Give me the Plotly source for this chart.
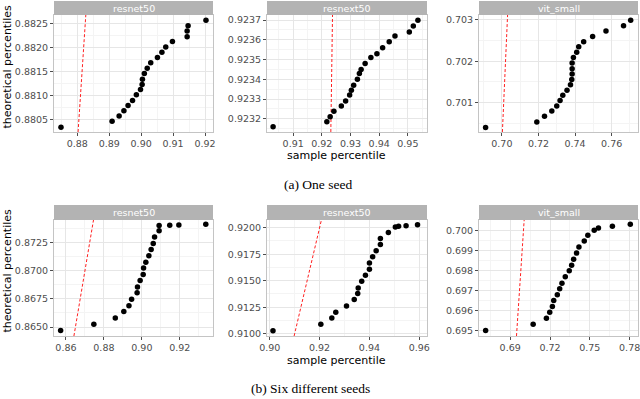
import plotly.graph_objects as go
from plotly.subplots import make_subplots

models = ["resnet50", "resnext50", "vit_small"]

# (a) one seed: sample percentile (x) vs theoretical percentile (y)
one_resnet50_x = [0.8749, 0.8909, 0.8931, 0.8946, 0.8959, 0.8973, 0.8985, 0.8998, 0.9003, 0.9004, 0.9010,
                  0.9019, 0.9030, 0.9051, 0.9065, 0.9077, 0.9098, 0.9144, 0.9144, 0.9147, 0.9203]
one_resnet50_y = [0.88035, 0.88047, 0.88058, 0.88069, 0.88080, 0.88090, 0.88102, 0.88113, 0.88123, 0.88134, 0.88146,
                  0.88157, 0.88168, 0.88179, 0.88190, 0.88201, 0.88212, 0.88222, 0.88234, 0.88245, 0.88256]

one_resnext50_x = [0.9030, 0.92175, 0.9229, 0.9242, 0.9268, 0.9283, 0.9297, 0.9303, 0.9311, 0.9324, 0.9331,
                   0.9337, 0.9351, 0.9371, 0.9392, 0.9412, 0.9435, 0.9455, 0.9505, 0.9519, 0.9535]
one_resnext50_y = [0.923160, 0.923185, 0.923210, 0.923238, 0.923265, 0.923290, 0.923320, 0.923345, 0.923370, 0.923400, 0.923430,
                   0.923450, 0.923480, 0.923510, 0.923530, 0.923560, 0.923590, 0.923620, 0.923640, 0.923670, 0.923700]

one_vit_x = [0.6911, 0.7191, 0.7233, 0.7273, 0.7300, 0.7318, 0.7333, 0.7356, 0.7375, 0.7382, 0.7384,
             0.7384, 0.7384, 0.7391, 0.7409, 0.7420, 0.7447, 0.7496, 0.7569, 0.7665, 0.7704]
one_vit_y = [0.70040, 0.70053, 0.70067, 0.70080, 0.70092, 0.70105, 0.70118, 0.70130, 0.70143, 0.70156, 0.70169,
             0.70182, 0.70196, 0.70209, 0.70222, 0.70235, 0.70247, 0.70260, 0.70273, 0.70286, 0.70299]

# (b) six different seeds
six_resnet50_x = [0.8572, 0.8747, 0.8860, 0.8905, 0.8932, 0.8946, 0.8975, 0.8977, 0.8991, 0.9007, 0.9009,
                  0.9021, 0.9037, 0.9049, 0.9060, 0.9067, 0.9091, 0.9091, 0.9147, 0.9195, 0.9337]
six_resnet50_y = [0.86470, 0.86524, 0.86580, 0.86637, 0.86690, 0.86747, 0.86804, 0.86857, 0.86914, 0.86967, 0.87024,
                  0.87077, 0.87134, 0.87190, 0.87244, 0.87300, 0.87357, 0.87402, 0.87405, 0.87408, 0.87414]

six_resnext50_x = [0.9013, 0.9205, 0.9249, 0.9265, 0.9308, 0.9339, 0.9353, 0.9355, 0.9369, 0.9384, 0.9400,
                   0.9400, 0.9413, 0.9427, 0.9444, 0.9444, 0.9476, 0.9504, 0.9517, 0.9547, 0.9593]
six_resnext50_y = [0.91028, 0.91088, 0.91148, 0.91202, 0.91262, 0.91322, 0.91379, 0.91432, 0.91495, 0.91551, 0.91608,
                   0.91668, 0.91725, 0.91782, 0.91842, 0.91899, 0.91956, 0.92006, 0.92013, 0.92019, 0.92028]

six_vit_x = [0.6715, 0.7073, 0.7173, 0.7198, 0.7218, 0.7228, 0.7255, 0.7273, 0.7290, 0.7315, 0.7345,
             0.7363, 0.7378, 0.7400, 0.7418, 0.7458, 0.7485, 0.7533, 0.7565, 0.7670, 0.7805]
six_vit_y = [0.69502, 0.69533, 0.69563, 0.69593, 0.69622, 0.69652, 0.69680, 0.69710, 0.69738, 0.69770, 0.69800,
             0.69828, 0.69858, 0.69888, 0.69918, 0.69948, 0.69977, 0.70002, 0.70013, 0.70022, 0.70032]

panels = [
    (one_resnet50_x, one_resnet50_y), (one_resnext50_x, one_resnext50_y), (one_vit_x, one_vit_y),
    (six_resnet50_x, six_resnet50_y), (six_resnext50_x, six_resnext50_y), (six_vit_x, six_vit_y),
]

# axis ranges / breaks per panel: xrange, yrange, x dtick, y dtick, y format
axes = [
    ([0.87271, 0.9225], [0.88025, 0.88267], 0.01, 0.0005, ".4f"),
    ([0.90088, 0.95667], [0.923133, 0.923726], 0.01, 0.0001, ".4f"),
    ([0.6875, 0.7744], [0.70029, 0.70312], 0.02, 0.001, ".3f"),
    ([0.8537, 0.9375], [0.8642, 0.87452], 0.02, 0.0025, ".4f"),
    ([0.8989, 0.9631], [0.90978, 0.92073], 0.02, 0.0025, ".4f"),
    ([0.6665, 0.7863], [0.69475, 0.70053], 0.03, 0.001, ".3f"),
]

W, H = 640, 399
col_px = [(54, 213), (267, 427), (479, 638)]
row_px = [(15, 132), (220, 336)]
strip_px = [(1, 15), (205, 220)]

fig = make_subplots(rows=2, cols=3)

for i, ((xs, ys), (xr, yr, xd, yd, yf)) in enumerate(zip(panels, axes)):
    r, c = i // 3 + 1, i % 3 + 1
    # y = x reference line
    fig.add_trace(go.Scatter(x=yr, y=yr, mode="lines",
                             line=dict(color="#ff2020", width=1, dash="3px,2px"),
                             showlegend=False, hoverinfo="skip"), row=r, col=c)
    fig.add_trace(go.Scatter(x=xs, y=ys, mode="markers",
                             marker=dict(color="black", size=5.5),
                             showlegend=False), row=r, col=c)
    x0, x1 = col_px[c - 1]
    y0, y1 = row_px[r - 1]
    common = dict(showgrid=True, gridcolor="#e6e6e6", gridwidth=1, automargin=False,
                  showline=True, linecolor="#c4c4c4", linewidth=1, mirror=True,
                  ticks="outside", ticklen=3, tickcolor="#4d4d4d", zeroline=False,
                  ticklabeloverflow="allow",
                  tickfont=dict(family="DejaVu Sans", size=9.5, color="#4d4d4d"))
    fig.update_xaxes(range=xr, dtick=xd, tick0=0, tickformat=".2f",
                     domain=[x0 / W, x1 / W],
                     minor=dict(dtick=xd / 2, tick0=0, showgrid=True, gridcolor="#f4f4f4", gridwidth=0.6),
                     **common, row=r, col=c)
    fig.update_yaxes(range=yr, dtick=yd, tick0=0, tickformat=yf,
                     domain=[1 - y1 / H, 1 - y0 / H],
                     minor=dict(dtick=yd / 2, tick0=0, showgrid=True, gridcolor="#f4f4f4", gridwidth=0.6),
                     **common, row=r, col=c)
    # facet strip
    s0, s1 = strip_px[r - 1]
    fig.add_shape(type="rect", xref="paper", yref="paper",
                  x0=x0 / W, x1=x1 / W, y0=1 - s1 / H, y1=1 - s0 / H,
                  fillcolor="#b3b3b3", line=dict(width=0))
    fig.add_annotation(text=models[c - 1], xref="paper", yref="paper",
                       x=(x0 + x1) / 2 / W, y=1 - (s0 + s1) / 2 / H,
                       xanchor="center", yanchor="middle",
                       showarrow=False, font=dict(family="DejaVu Sans", size=9.5, color="white"))

label_font = dict(family="DejaVu Sans", size=11, color="black")
for yc in [66.5, 270.5]:
    fig.add_annotation(text="theoretical percentiles", xref="paper", yref="paper",
                       x=7 / W, y=1 - yc / H, textangle=-90, xanchor="center", yanchor="middle",
                       showarrow=False, font=label_font)
for yc in [155, 360]:
    fig.add_annotation(text="sample percentile", xref="paper", yref="paper",
                       x=336 / W, y=1 - yc / H, xanchor="center", yanchor="middle",
                       showarrow=False, font=label_font)

cap_font = dict(family="Liberation Serif", size=13.5, color="black")
fig.add_annotation(text="(a) One seed", xref="paper", yref="paper",
                   x=318 / W, y=1 - 185 / H, xanchor="center", yanchor="middle",
                   showarrow=False, font=cap_font)
fig.add_annotation(text="(b) Six different seeds", xref="paper", yref="paper",
                   x=310 / W, y=1 - 388 / H, xanchor="center", yanchor="middle",
                   showarrow=False, font=cap_font)

fig.update_layout(template="none", width=W, height=H, margin=dict(l=0, r=0, t=0, b=0, pad=0),
                  paper_bgcolor="white", plot_bgcolor="white")

# drop the default page margin so the figure sits at the window corner
fig.write_html("out.html", config={"displayModeBar": False},
               post_script="document.body.style.margin='0';")
